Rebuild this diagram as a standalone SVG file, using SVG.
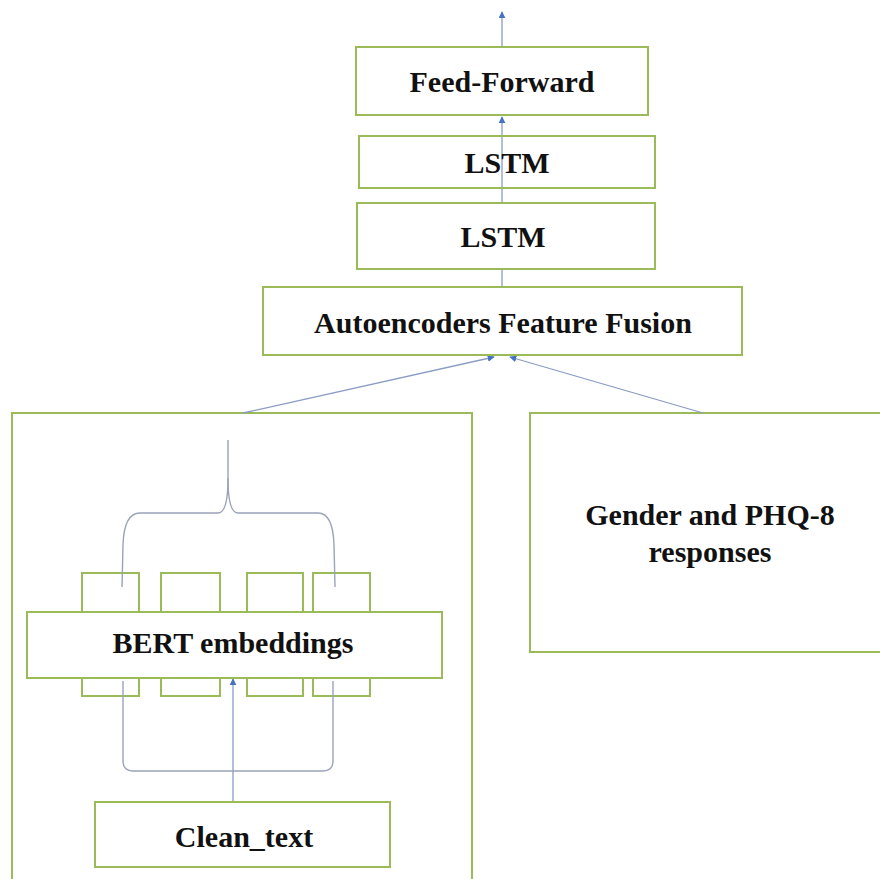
<svg xmlns="http://www.w3.org/2000/svg" width="880" height="879" viewBox="0 0 880 879">
<defs>
<style>
.box{fill:#ffffff;stroke:#9bbb59;stroke-width:2}
.open{fill:none;stroke:#9bbb59;stroke-width:2}
.lbl{font-family:"Liberation Serif","Times New Roman",serif;font-weight:bold;font-size:30px;fill:#111111;text-anchor:middle}
.con{fill:none;stroke:#8a9cc4;stroke-width:1.3}
.brace{fill:none;stroke:#9aa3b8;stroke-width:1.4}
</style>
<marker id="ah" viewBox="0 0 10 10" refX="9" refY="5" markerWidth="7" markerHeight="7" orient="auto" markerUnits="userSpaceOnUse">
<path d="M0,0 L10,5 L0,10 Z" fill="#4472c4"/>
</marker>
</defs>
<rect width="880" height="879" fill="#ffffff"/>

<g id="input-branch">
<rect class="open" x="12" y="413" width="460" height="475"/>
</g>
<g id="gender-phq8">
<rect class="box" x="530" y="413" width="352" height="239"/>
<text class="lbl" x="710" y="525">Gender and PHQ-8</text>
<text class="lbl" x="710" y="562">responses</text>
</g>

<g id="token-boxes">
<rect class="open" x="82" y="573" width="57" height="123"/>
<rect class="open" x="161" y="573" width="59" height="123"/>
<rect class="open" x="247" y="573" width="56" height="123"/>
<rect class="open" x="313" y="573" width="57" height="123"/>
</g>

<g id="connectors">
<line class="con" x1="502" y1="47" x2="502" y2="12" marker-end="url(#ah)"/>
<line class="con" x1="502" y1="203" x2="502" y2="117" marker-end="url(#ah)"/>
<line class="con" x1="502" y1="287" x2="502" y2="269"/>
<line class="con" x1="243" y1="413" x2="494" y2="357" marker-end="url(#ah)"/>
<line class="con" x1="703" y1="413" x2="510" y2="357" marker-end="url(#ah)"/>
<line class="con" x1="233" y1="802" x2="233" y2="679" marker-end="url(#ah)"/>
<path class="brace" d="M228,440 L228,478 Q228,513 218,513 L140,513 Q124,513 123,545 L122,587"/>
<path class="brace" d="M228,478 Q228,513 238,513 L318,513 Q333,513 334,545 L335,587"/>
<path class="brace" d="M123,681 L123,761 Q123,771 133,771 L323,771 Q333,771 333,761 L333,681"/>
</g>

<g id="feed-forward">
<rect class="box" x="356" y="47" width="292" height="68"/>
<text class="lbl" x="502" y="92">Feed-Forward</text>
</g>
<g id="lstm1">
<rect class="open" x="359" y="136" width="296" height="52"/>
<text class="lbl" x="507" y="173">LSTM</text>
</g>
<g id="lstm2">
<rect class="box" x="357" y="203" width="298" height="66"/>
<text class="lbl" x="503" y="247">LSTM</text>
</g>
<g id="autoencoders">
<rect class="box" x="263" y="287" width="479" height="68"/>
<text class="lbl" x="503" y="333">Autoencoders Feature Fusion</text>
</g>
<g id="bert">
<rect class="box" x="27" y="612" width="415" height="66"/>
<text class="lbl" x="233" y="653">BERT embeddings</text>
</g>
<g id="clean-text">
<rect class="box" x="95" y="802" width="295" height="65"/>
<text class="lbl" x="244" y="847">Clean_text</text>
</g>
</svg>
